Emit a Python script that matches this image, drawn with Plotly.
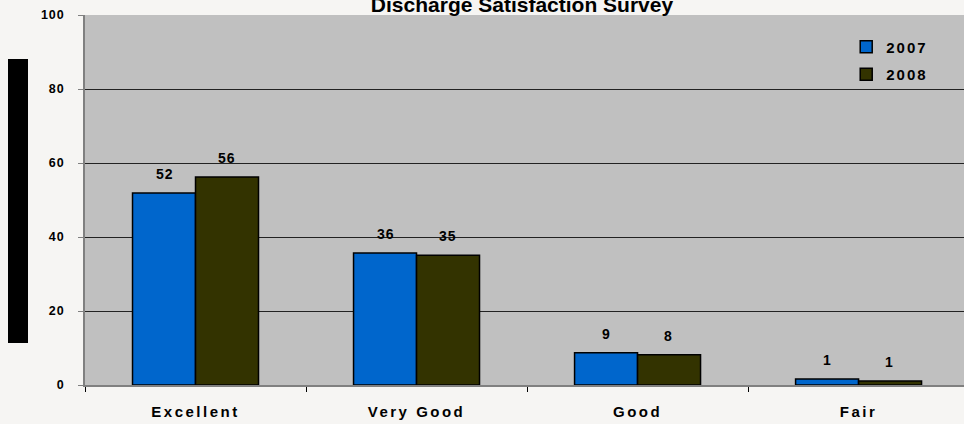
import plotly.graph_objects as go

categories = ["Excellent", "Very Good", "Good", "Fair"]
values_2007 = [51.9, 35.7, 8.7, 1.6]
values_2008 = [56.2, 35.1, 8.2, 1.1]
labels_2007 = ["52", "36", "9", "1"]
labels_2008 = ["56", "35", "8", "1"]
y_ticks = [0, 20, 40, 60, 80, 100]
y_tick_labels = ["0", "20", "40", "60", "80", "100"]

FONT = "Liberation Sans, Arial, sans-serif"


def sp(text, px):
    return '<b><span style="letter-spacing:%spx">%s</span></b>' % (px, text)


fig = go.Figure()
fig.add_trace(go.Bar(name=sp("2007", 2), x=categories, y=values_2007,
                     marker=dict(color="#0066CC", line=dict(color="black", width=1.5)),
                     offsetgroup="a", legendgroup="a"))
fig.add_trace(go.Bar(name=sp("2008", 2), x=categories, y=values_2008,
                     marker=dict(color="#333300", line=dict(color="black", width=1.5)),
                     offsetgroup="b", legendgroup="b"))

annotations = []
for cat, v, t in zip(categories, values_2007, labels_2007):
    annotations.append(dict(x=cat, y=v, text=sp(t, 1), showarrow=False,
                            xshift=-31, yanchor="bottom", yshift=9,
                            font=dict(family=FONT, size=14, color="black")))
for cat, v, t in zip(categories, values_2008, labels_2008):
    annotations.append(dict(x=cat, y=v, text=sp(t, 1), showarrow=False,
                            xshift=31, yanchor="bottom", yshift=9,
                            font=dict(family=FONT, size=14, color="black")))

fig.update_layout(
    width=964, height=424,
    margin=dict(l=85, r=0, t=15, b=39),
    paper_bgcolor="#F6F5F3",
    plot_bgcolor="#C0C0C0",
    barmode="group",
    bargap=0.43,
    bargroupgap=0,
    font=dict(family=FONT, color="black"),
    title=dict(text="<b>Discharge Satisfaction Survey</b>", x=522/964, xanchor="center",
               y=1 - 5/424, yanchor="middle", yref="container",
               font=dict(family=FONT, size=21, color="black")),
    legend=dict(x=0.866, y=0.958, xanchor="left", yanchor="top",
                bgcolor="rgba(0,0,0,0)", tracegroupgap=5,
                font=dict(family=FONT, size=15, color="black")),
    annotations=annotations,
    shapes=[dict(type="rect", xref="paper", yref="paper",
                 x0=(8 - 85) / 879, x1=(28 - 85) / 879,
                 y0=(385 - 343) / 370, y1=(385 - 59) / 370,
                 fillcolor="black", line=dict(width=0))],
    showlegend=True,
)

fig.update_xaxes(
    type="category", range=[-0.5, 3.477],
    tickson="boundaries", ticks="outside", ticklen=5, tickcolor="black",
    showline=True, linecolor="#808080", linewidth=1.5,
    tickfont=dict(family=FONT, size=15, color="black"),
    ticktext=[sp(c, 2.5) for c in categories], tickvals=categories,
    ticklabelstandoff=12,
    showgrid=False,
)
fig.update_yaxes(
    range=[0, 100], tickvals=y_ticks, ticktext=[sp(t, 1) for t in y_tick_labels],
    ticks="outside", ticklen=5, tickcolor="#808080",
    showline=True, linecolor="#808080", linewidth=1.5,
    showgrid=True, gridcolor="#222222", gridwidth=1,
    tickfont=dict(family=FONT, size=12.5, color="black"),
    ticklabelstandoff=11, zeroline=False,
)

fig.write_html("out.html", config={"displayModeBar": False},
               post_script="document.body.style.margin='0';document.body.style.overflow='hidden';")
